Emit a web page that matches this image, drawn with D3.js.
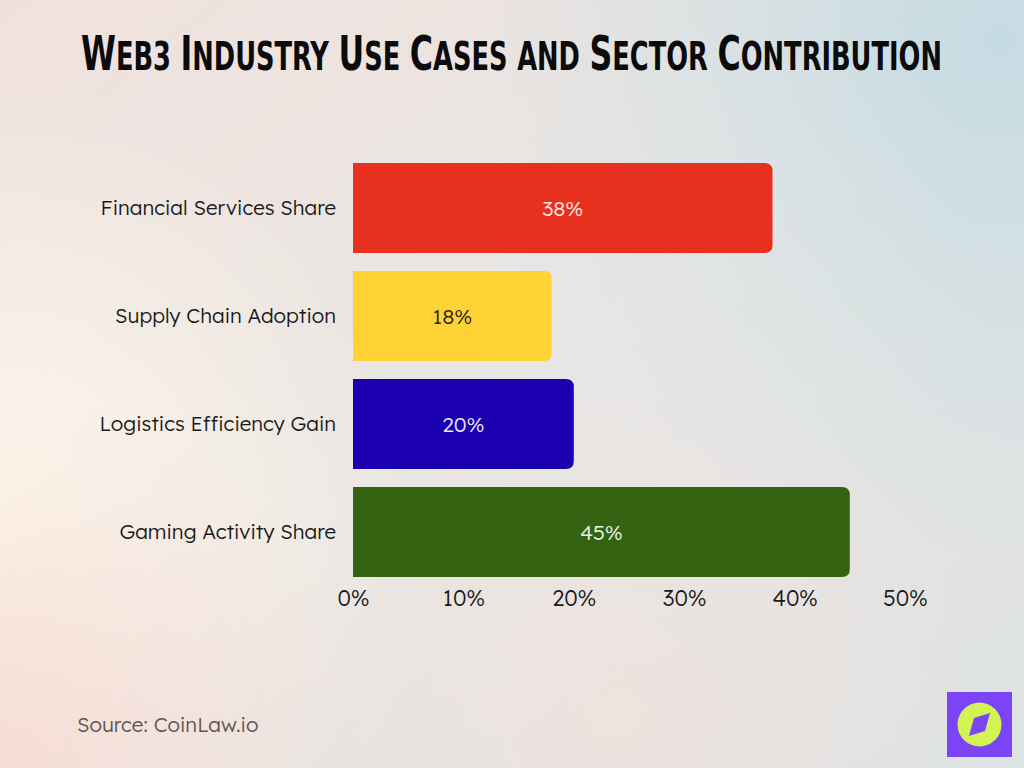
<!DOCTYPE html>
<html><head><meta charset="utf-8">
<script src="https://cdn.jsdelivr.net/npm/d3@7"></script>
<style>html,body{margin:0;padding:0;}svg{display:block;}</style>
</head><body>
<script>
const categories = ["Financial Services Share","Supply Chain Adoption","Logistics Efficiency Gain","Gaming Activity Share"];
const values = [38,18,20,45];
const barColors = ["#e8301f","#ffd335","#1b00af","#336311"];
const labelColors = ["#fbe9e4","#2a2410","#ece8fb","#eef3e6"];
const tickValues = [0,10,20,30,40,50];
const titleWords = ["Web3","Industry","Use","Cases","and","Sector","Contribution"];
const source = "Source: CoinLaw.io";

const W=1024,H=768;
const svg=d3.select("body").append("svg").attr("width",W).attr("height",H);
const defs=svg.append("defs");
const bg=defs.append("linearGradient").attr("id","bg").attr("x1",0).attr("y1",0).attr("x2",1).attr("y2",1);
bg.append("stop").attr("offset","0%").attr("stop-color","#efe1de");
bg.append("stop").attr("offset","50%").attr("stop-color","#ebe6e2");
bg.append("stop").attr("offset","100%").attr("stop-color","#dde2e3");
svg.append("rect").attr("width",W).attr("height",H).attr("fill","url(#bg)");
function radial(id,cx,cy,r,color,op){
  const g=defs.append("radialGradient").attr("id",id).attr("gradientUnits","userSpaceOnUse").attr("cx",cx).attr("cy",cy).attr("r",r);
  g.append("stop").attr("offset","0%").attr("stop-color",color).attr("stop-opacity",op);
  g.append("stop").attr("offset","100%").attr("stop-color",color).attr("stop-opacity",0);
  svg.append("rect").attr("width",W).attr("height",H).attr("fill",`url(#${id})`);
}
radial("r1",1000,40,520,"#c3dbe3",0.95);
radial("r2",0,500,420,"#fdf8ec",0.95);
radial("r3",0,768,380,"#f7d9d2",0.8);
radial("r4",600,330,380,"#e3e6e6",0.6);
radial("r5",620,720,360,"#f3e2dc",0.6);

// title: one text per word, pseudo small caps, fitted to the reference width
const tg=svg.append("g");
const gap=13;
let cx=0;
titleWords.forEach(w=>{
  const t=tg.append("text").attr("x",cx).attr("y",0)
    .attr("font-family","'DejaVu Sans Condensed','DejaVu Sans'").attr("font-weight","bold")
    .attr("fill","#0b0b0b");
  const isCap = w[0]!==w[0].toLowerCase();
  if(isCap){
    t.append("tspan").attr("font-size",48).text(w[0]);
    if(w.length>1) t.append("tspan").attr("font-size",39).text(w.slice(1).toUpperCase());
  } else {
    t.append("tspan").attr("font-size",39).text(w.toUpperCase());
  }
  cx+=t.node().getComputedTextLength()+gap;
});
const total=cx-gap;
tg.attr("transform",`translate(81,70) scale(${861/total},1)`);

const x=d3.scaleLinear().domain([0,50]).range([353,905]);
const y=d3.scaleBand().domain(categories).range([154,586]).paddingInner(1/6).paddingOuter(1/12);
const rr=8;
function barPath(x0,x1,y0,h){
  return `M${x0},${y0}H${x1-rr}Q${x1},${y0} ${x1},${y0+rr}V${y0+h-rr}Q${x1},${y0+h} ${x1-rr},${y0+h}H${x0}Z`;
}
const font="'Lexend','Inter','Roboto',sans-serif";
const fw=300;
svg.selectAll("path.bar").data(values).join("path").attr("class","bar")
  .attr("d",(d,i)=>barPath(x(0),x(d),y(categories[i]),y.bandwidth()))
  .attr("fill",(d,i)=>barColors[i]);
svg.selectAll("text.val").data(values).join("text").attr("class","val")
  .attr("x",(d)=>(x(0)+x(d))/2).attr("y",(d,i)=>y(categories[i])+y.bandwidth()/2)
  .attr("dy","0.36em").attr("text-anchor","middle").attr("font-family",font).attr("font-size",21)
  .attr("font-weight",fw).attr("fill",(d,i)=>labelColors[i]).text(d=>d+"%");

const ya=d3.axisLeft(y).tickSize(0).tickPadding(17);
const gy=svg.append("g").attr("transform",`translate(${x(0)},0)`).call(ya);
gy.select(".domain").remove();
gy.selectAll("text").attr("font-family",font).attr("font-size",20.5).attr("font-weight",fw).attr("fill","#1a1a1a");

const xa=d3.axisBottom(x).tickValues(tickValues).tickFormat(d=>d+"%").tickSize(0).tickPadding(13);
const gx=svg.append("g").attr("transform",`translate(0,${y.range()[1]-9})`).call(xa);
gx.select(".domain").remove();
gx.selectAll("text").attr("font-family",font).attr("font-size",22).attr("font-weight",fw).attr("fill","#1a1a1a");

svg.append("text").attr("x",77).attr("y",732).attr("font-family",font).attr("font-size",20.5)
  .attr("font-weight",fw).attr("fill","#5e5552").text(source);

// logo
svg.append("rect").attr("x",947).attr("y",692).attr("width",65).attr("height",65).attr("fill","#7b44f4");
svg.append("circle").attr("cx",979.5).attr("cy",724.5).attr("r",22).attr("fill","#d3f255");
svg.append("path").attr("d","M990,713 L985,731 L969,736 L974,718 Z").attr("fill","#7b44f4");
</script>
</body></html>
